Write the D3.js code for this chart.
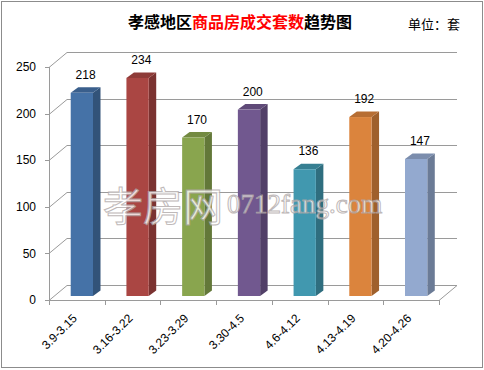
<!DOCTYPE html>
<html><head><meta charset="utf-8">
<script src="https://cdn.jsdelivr.net/npm/d3@7/dist/d3.min.js"></script>
<style>body{margin:0;background:#fff}svg{display:block}</style>
</head><body>
<svg id="c" width="484" height="370"></svg>
<script>
const categories = ["3.9-3.15","3.16-3.22","3.23-3.29","3.30-4.5","4.6-4.12","4.13-4.19","4.20-4.26"];
const values = [218,234,170,200,136,192,147];
const colors = ["#4572A7","#AA4643","#89A54E","#71588F","#4198AF","#DB843D","#93A9CF"];
const yTicks = [0,50,100,150,200,250];

const svg = d3.select("#c");
const X0 = 49, X1 = 439, Y0 = 300, YT = 67;
const DX = 18, DY = -15;          // wall depth
const BX = 5, BY = -4;            // bar front plane offset
const BDX = 7.5, BDY = -5.5;      // bar depth

const x = d3.scaleBand().domain(categories).range([X0, X1]);
const y = d3.scaleLinear().domain([0,250]).range([Y0, YT]);

// outer border
svg.append("rect").attr("x",1.5).attr("y",1.5).attr("width",481).attr("height",366)
  .attr("fill","#fff").attr("stroke","#8c8c8c").attr("stroke-width",1);

const grid = svg.append("g").attr("stroke","#9a9a9a").attr("stroke-width",1).attr("fill","none");
yTicks.forEach(v => {
  const yy = Math.round(y(v)) + 0.5;
  grid.append("line").attr("x1",X0).attr("y1",yy).attr("x2",X0+DX).attr("y2",yy+DY);
  grid.append("line").attr("x1",X0+DX).attr("y1",yy+DY).attr("x2",X1+DX).attr("y2",yy+DY);
  grid.append("line").attr("x1",X0-4).attr("y1",yy).attr("x2",X0).attr("y2",yy);
});
// floor
grid.append("line").attr("x1",X0).attr("y1",Y0+0.5).attr("x2",X1).attr("y2",Y0+0.5);
grid.append("line").attr("x1",X1).attr("y1",Y0+0.5).attr("x2",X1+DX).attr("y2",Y0+0.5+DY);
// vertical axis
grid.append("line").attr("x1",X0+0.5).attr("y1",YT).attr("x2",X0+0.5).attr("y2",Y0+5);
// category ticks
x.domain().concat([null]).forEach((c,i) => {
  const xx = Math.round(X0 + i*x.bandwidth()) + 0.5;
  grid.append("line").attr("x1",xx).attr("y1",Y0).attr("x2",xx).attr("y2",Y0+5);
});

// bars
const bw = x.bandwidth()*0.4;
const bars = svg.append("g");
categories.forEach((c,i) => {
  const cx = x(c) + x.bandwidth()/2 + BX;
  const xl = cx - bw/2, xr = cx + bw/2;
  const yb = Y0 + BY, yt = y(values[i]) + BY;
  const col = d3.color(colors[i]);
  bars.append("path").attr("d",`M${xr},${yb}L${xr+BDX},${yb+BDY}L${xr+BDX},${yt+BDY}L${xr},${yt}Z`)
    .attr("fill", col.darker(0.9));
  bars.append("path").attr("d",`M${xl},${yt}L${xl+BDX},${yt+BDY}L${xr+BDX},${yt+BDY}L${xr},${yt}Z`)
    .attr("fill", col.darker(0.5));
  bars.append("rect").attr("x",xl).attr("y",yt).attr("width",bw).attr("height",yb-yt)
    .attr("fill", colors[i]);
  svg.append("text").attr("x",cx+BDX/2).attr("y",yt-14).attr("text-anchor","middle")
    .attr("font-family","Liberation Sans, Arial, sans-serif").attr("font-size",12).attr("fill","#000")
    .text(values[i]);
  const lx = x(c) + x.bandwidth()/2 - 2, ly = Y0 + 16;
  svg.append("text").attr("transform",`translate(${lx},${ly}) rotate(-45)`).attr("text-anchor","end")
    .attr("dy","0.35em")
    .attr("font-family","Liberation Sans, Arial, sans-serif").attr("font-size",12).attr("fill","#000")
    .text(c);
});

// y labels
yTicks.forEach(v => {
  svg.append("text").attr("x",36).attr("y",y(v)).attr("dy","0.35em").attr("text-anchor","end")
    .attr("font-family","Liberation Sans, Arial, sans-serif").attr("font-size",12).attr("fill","#000")
    .text(v);
});

// watermark
const wm = svg.append("g").attr("opacity",0.8);
wm.append("text").attr("x",103).attr("y",221).attr("font-family","Noto Sans CJK SC, sans-serif")
  .attr("font-size",40).attr("fill","#fff").attr("stroke","#b0a8a8").attr("stroke-width",1)
  .text("孝房网");
wm.append("text").attr("x",227).attr("y",213).attr("font-family","Liberation Serif, serif")
  .attr("font-size",27).attr("fill","#fff").attr("stroke","#b0a8a8").attr("stroke-width",1)
  .text("0712fang.com");

// title
const t = svg.append("text").attr("x",240).attr("y",28).attr("text-anchor","middle")
  .attr("font-family","Noto Sans CJK SC, sans-serif").attr("font-size",16).attr("font-weight","bold");
t.append("tspan").attr("fill","#000").text("孝感地区");
t.append("tspan").attr("fill","#ff0000").text("商品房成交套数");
t.append("tspan").attr("fill","#000").text("趋势图");
svg.append("text").attr("x",408).attr("y",29).attr("font-family","Noto Sans CJK SC, sans-serif")
  .attr("font-size",13).attr("fill","#000").text("单位：套");
</script>
</body></html>
